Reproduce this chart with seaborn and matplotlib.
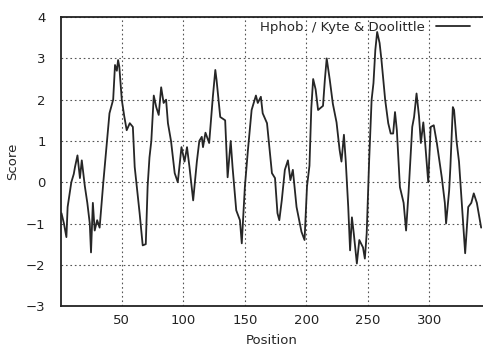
import pandas as pd
import matplotlib
matplotlib.use("Agg")
import matplotlib.pyplot as plt
import seaborn as sns

# values (residue position, Kyte & Doolittle score)
position = [1, 3, 5, 6, 9, 11, 12, 14, 16, 17.5, 20, 22, 24, 25, 26.5, 28, 30, 32,
            35, 38, 40, 43, 44.5, 46, 47, 48, 50, 52, 54, 56.5, 59, 60.5, 62.5, 64.5,
            67, 69.5, 71, 72.5, 74, 76, 78, 80, 82, 84, 86, 87.5, 90, 93, 95.5, 98.5,
            101, 103, 105, 108, 111, 113, 115, 116, 118, 121, 124, 126, 127, 130, 134,
            136, 138.5, 140, 143, 146, 147.5, 150, 152.5, 155.5, 159, 160.5, 163, 164.5,
            168, 172, 174.5, 176.5, 178, 180, 182.5, 185, 187, 189, 192, 196, 198.5,
            200.5, 202.5, 204, 205.5, 207.5, 209.5, 213.5, 215, 216.5, 219, 221.5,
            224.5, 227, 228.5, 230.5, 232, 234, 235.5, 237, 238.5, 241, 243, 246,
            247.5, 249, 251, 253, 254.5, 256, 257.5, 259.5, 261, 264, 266.5, 268.5,
            270.5, 272, 273.5, 276, 279, 281, 283, 286, 287.5, 289.5, 291.5, 293, 295,
            296.5, 299, 301, 303.5, 306, 310, 312.5, 313.5, 316, 317, 319, 320, 322,
            324, 326.5, 329, 331.5, 334, 336, 338.5, 342]
score = [-0.75, -1.0, -1.33, -0.6, 0.0, 0.2, 0.37, 0.65, 0.1, 0.53, -0.1, -0.5, -1.0,
         -1.7, -0.5, -1.17, -0.92, -1.1, 0.0, 1.0, 1.67, 2.0, 2.84, 2.7, 2.96, 2.8,
         2.0, 1.6, 1.26, 1.43, 1.34, 0.37, -0.2, -0.75, -1.53, -1.5, -0.1, 0.6, 1.0,
         2.1, 1.82, 1.63, 2.3, 1.92, 2.0, 1.43, 1.0, 0.22, 0.0, 0.85, 0.5, 0.85, 0.37,
         -0.44, 0.5, 1.0, 1.1, 0.85, 1.2, 0.95, 2.07, 2.72, 2.48, 1.58, 1.5, 0.12, 1.0,
         0.37, -0.68, -0.92, -1.48, -0.12, 0.78, 1.75, 2.1, 1.92, 2.07, 1.67, 1.43,
         0.22, 0.1, -0.75, -0.92, -0.44, 0.3, 0.53, 0.05, 0.3, -0.6, -1.2, -1.4, -0.1,
         0.4, 1.8, 2.5, 2.25, 1.75, 1.85, 2.48, 3.0, 2.48, 1.9, 1.45, 0.78, 0.5, 1.15,
         0.5, -0.6, -1.65, -0.85, -1.24, -1.97, -1.4, -1.58, -1.85, -1.24, 0.53, 2.0,
         2.4, 3.2, 3.64, 3.37, 2.96, 2.0, 1.43, 1.18, 1.18, 1.7, 1.26, -0.12, -0.5,
         -1.17, -0.25, 1.34, 1.58, 2.15, 1.6, 0.95, 1.45, 0.95, 0.0, 1.34, 1.38, 0.95,
         0.12, -0.5, -1.0, -0.2, 0.37, 1.82, 1.75, 1.0, 0.5, -0.6, -1.72, -0.6, -0.5,
         -0.27, -0.5, -1.1]

x_ticks = [50, 100, 150, 200, 250, 300]
y_ticks = [-3, -2, -1, 0, 1, 2, 3, 4]

df = pd.DataFrame({"Position": position, "Score": score})

sns.set_style("white")
plt.rcParams["font.family"] = ["DejaVu Sans"]

fig = plt.figure(figsize=(4.83, 3.49), dpi=100)
ax = fig.add_axes([0.126, 0.123, 0.874, 0.828])

sns.lineplot(data=df, x="Position", y="Score", ax=ax, color="#262626", lw=1.3,
             label="Hphob. / Kyte & Doolittle", estimator=None, sort=False)

ax.set_xlim(0.5, 343.5)
ax.set_ylim(-3, 4)
ax.set_xticks(x_ticks)
ax.set_yticks(y_ticks)
ax.tick_params(direction="in", length=3, labelsize=9.5, colors="#222222")
ax.tick_params(axis="y", pad=11)
ax.tick_params(axis="x", pad=6)
ax.grid(True, linestyle=(0, (1.5, 2.5)), color="#555555", lw=0.8)

for side in ["left", "bottom", "top"]:
    ax.spines[side].set_color("#222222")
    ax.spines[side].set_linewidth(1.3)
ax.spines["right"].set_visible(False)

ax.set_xlabel("Position", fontsize=9.5, labelpad=5)
ax.set_ylabel("Score", fontsize=9.5)
ax.yaxis.set_label_coords(-0.1, 0.5)

ax.legend(loc="upper right", frameon=False, markerfirst=False, fontsize=9.5,
          handlelength=2.6, borderaxespad=0.1, bbox_to_anchor=(0.985, 1.01))

fig.savefig("out.png", dpi=100)
